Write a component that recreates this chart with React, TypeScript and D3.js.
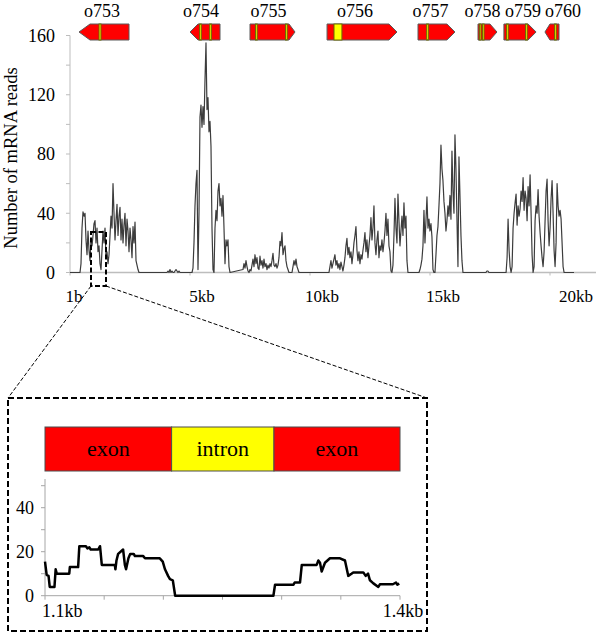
import React from 'react';
import * as d3 from 'd3';

// ---------- main chart data ----------
const yTicksMain = [0, 40, 80, 120, 160];
const yMinorMain = [20, 60, 100, 140];
const xTickKb = [0, 5, 10, 15, 20];
const xTickLabels = ['1b', '5kb', '10kb', '15kb', '20kb'];

const STEP_KB = 1 / 24;
const seg1 = [0, 6, 30, 41, 38, 40, 22, 12, 28, 15, 8, 22, 18, 25, 33, 35, 20, 30, 14, 18, 6, 2, 15, 28, 20, 30, 10, 14, 6, 12, 25, 38, 30, 60, 40, 22, 35, 46, 25, 38, 44, 22, 36, 20, 32, 40, 18, 36, 28, 14, 30, 22, 10, 31, 20, 34, 8, 5, 2, 0];
const seg2 = [0, 0, 1, 0, 2, 0, 1, 0, 0, 1, 2, 1, 0, 1, 0, 0];
const seg3 = [0, 3, 20, 45, 60, 69, 2, 40, 105, 113, 98, 112, 100, 130, 155, 110, 118, 95, 102, 85, 30, 2, 0, 30, 42, 35, 55, 60, 45, 50, 38, 52, 30, 6, 22, 18, 22, 4, 0];
const seg4 = [2, 6, 3, 8, 4, 1, 0, 2, 1, 5, 9, 4, 12, 6, 10, 3, 2, 11, 5, 8, 3, 9, 4, 6, 2, 5, 3, 6, 4, 8, 13, 5, 4, 6, 3, 5, 10, 21, 18, 27, 12, 16, 18, 8, 4, 2, 0, 0, 0, 0, 4, 8, 5, 9, 4, 2, 0, 0];
const seg5 = [0, 4, 8, 3, 6, 9, 12, 5, 8, 3, 6, 2, 7, 4, 1, 5, 10, 18, 23, 12, 17, 10, 14, 6, 12, 20, 25, 31, 15, 8, 14, 6, 12, 9, 15, 20, 27, 14, 22, 10, 18, 25, 37, 22, 30, 45, 20, 12, 22, 28, 10, 18, 15, 22, 14, 20, 28, 40, 25, 36, 18, 14, 1, 0, 5, 25, 50, 30, 20, 53, 35, 18, 28, 38, 25, 47, 30, 38, 8, 0];
const seg6 = [0, 2, 5, 9, 18, 42, 20, 35, 51, 30, 36, 28, 33, 24, 2, 0, 0, 12, 25, 31, 45, 60, 86, 70, 62, 48, 40, 28, 35, 45, 38, 52, 36, 82, 55, 40, 93, 70, 36, 4, 78, 52, 25, 8, 0];
const seg7 = [0, 1, 1, 0, 0];
const seg8 = [0, 10, 36, 15, 4, 0, 4, 30, 40, 47, 53, 32, 45, 38, 43, 55, 48, 64, 42, 55, 50, 35, 58, 45, 66, 40, 12, 0, 4, 35, 45, 40, 56, 38, 27, 18, 10, 4, 14, 35, 55, 63, 35, 18, 30, 50, 62, 40, 15, 4, 20, 60, 45, 38, 42, 36, 20, 4, 0];
const segStartKb = [0.417, 4.0, 5.083, 7.208, 10.79, 14.54, 17.33, 18.17];
const segValues = [seg1, seg2, seg3, seg4, seg5, seg6, seg7, seg8];
const coverageEndKb = 21.0;

// genes
const geneNames = ['o753', 'o754', 'o755', 'o756', 'o757', 'o758', 'o759', 'o760'];
const geneStartKb = [0.375, 5.0, 7.5, 10.71, 14.5, 17.0, 18.08, 19.79];
const geneEndKb = [2.458, 6.25, 9.375, 13.625, 16.04, 17.79, 19.42, 20.375];
const geneStrand = [-1, -1, 1, 1, 1, 1, 1, -1];
const geneIntrons: [number, number][][] = [
  [[1.21, 1.29]],
  [[5.40, 5.47], [5.82, 5.89]],
  [[7.73, 7.80], [8.98, 9.05]],
  [[11.0, 11.33]],
  [[14.86, 14.93]],
  [[17.06, 17.11], [17.19, 17.24]],
  [[18.19, 18.26], [18.98, 19.05]],
  [[20.19, 20.26]],
];
const geneHeadPx = [11, 8, 6, 8, 8, 7, 8, 5];
const geneLabelDx = [-2, -4, -4, -7, -6, -5, 3, 11];
const xLabelDx = [4, 12, 12, 13, 26];

// ---------- inset data ----------
const insetDomain = [1100, 1400];
const insetYTicks = [0, 20, 40];
const insetYMinor = [10, 30, 50];
const insetXTicks = [1100, 1150, 1200, 1250, 1300, 1350, 1400];
const insetXLabels = ['1.1kb', '1.4kb'];
const insetRegions = [
  { name: 'exon', start: 1100, end: 1207, color: '#ff0000' },
  { name: 'intron', start: 1207, end: 1293.5, color: '#ffff00' },
  { name: 'exon', start: 1293.5, end: 1400, color: '#ff0000' },
];
const insetCoverage: [number, number][] = [
  [1100, 15.5], [1101.4, 9.5], [1103, 9], [1104, 4], [1108, 4], [1109, 12], [1110, 10], [1120.5, 10],
  [1121, 13], [1128, 13], [1129, 22.5], [1134.6, 22.5], [1135.8, 21.5], [1137.5, 22], [1138.6, 21],
  [1145, 21], [1146.5, 22.5], [1148, 14], [1159, 14], [1159.5, 12], [1160.4, 16], [1161.8, 19],
  [1166, 21], [1167.5, 14], [1168.5, 12], [1170.5, 17], [1172, 19], [1175, 19], [1176, 18], [1183, 18],
  [1184.5, 17], [1197, 17], [1199.5, 15.5], [1201.4, 12], [1204, 9], [1205.6, 7.5], [1208, 7], [1210, 0],
  [1293, 0], [1294.4, 5], [1310, 5], [1311, 6], [1315.5, 6], [1317, 14], [1329.6, 14], [1331, 16],
  [1332.4, 15], [1333.8, 11], [1336.6, 15], [1340.8, 17], [1349.3, 17], [1353.5, 16], [1356.3, 9],
  [1359, 10], [1360.5, 10.6], [1369, 10.6], [1371, 9], [1373, 10], [1374.6, 7], [1377.5, 5.6],
  [1381.7, 4], [1383, 5.2], [1394, 5.2], [1396.6, 6], [1397.7, 5], [1399.4, 5.5],
];

const FONT = '"Liberation Serif", "DejaVu Serif", serif';
const T: React.CSSProperties = { fontFamily: FONT };

export default function App() {
  const x = d3.scaleLinear().domain([0, 20]).range([70, 550]);
  const y = d3.scaleLinear().domain([0, 160]).range([272.5, 35.5]);

  const pts: [number, number][] = [[0, 0]];
  segValues.forEach((vals, si) => {
    vals.forEach((v, i) => pts.push([segStartKb[si] + i * STEP_KB, v]));
  });
  pts.push([coverageEndKb, 0]);
  const line = d3.line<[number, number]>().x(d => x(d[0])).y(d => y(d[1]));

  const gTop = 24, gBot = 40, gMid = 32;
  const genes = geneNames.map((name, i) => {
    const x0 = x(geneStartKb[i]), x1 = x(geneEndKb[i]);
    const h = geneHeadPx[i];
    let poly: string;
    if (geneStrand[i] > 0) {
      poly = `${x0},${gTop} ${x1 - h},${gTop} ${x1},${gMid} ${x1 - h},${gBot} ${x0},${gBot}`;
    } else {
      poly = `${x0},${gMid} ${x0 + h},${gTop} ${x1},${gTop} ${x1},${gBot} ${x0 + h},${gBot}`;
    }
    return { name, x0, x1, poly, i };
  });

  const ix = d3.scaleLinear().domain(insetDomain).range([45, 400]);
  const iy = d3.scaleLinear().domain([0, 50]).range([595.7, 485.7]);
  const iline = d3.line<[number, number]>().x(d => ix(d[0])).y(d => iy(d[1]));

  const axisGray = '#bdbdbd';

  return (
    <svg width={600} height={634} style={{ position: 'absolute', left: 0, top: 0, background: '#fff' }}>
      <rect x={0} y={0} width={600} height={634} fill="#fff" />
      <line x1={70} x2={70} y1={y(0)} y2={y(160)} stroke={axisGray} strokeWidth={1} />
      {[...yTicksMain, ...yMinorMain].map(t => (
        <line key={'yt' + t} x1={66} x2={70} y1={y(t)} y2={y(t)} stroke={axisGray} strokeWidth={1} />
      ))}
      {yTicksMain.map(t => (
        <text key={'yl' + t} style={T} x={55} y={y(t)} dy="0.35em" textAnchor="end" fontSize={18} fill="#000">{t}</text>
      ))}
      <text style={T} transform={`translate(17,158) rotate(-90)`} textAnchor="middle" fontSize={18.5} fill="#000">Number of mRNA reads</text>
      <line x1={70} x2={596} y1={y(0)} y2={y(0)} stroke={axisGray} strokeWidth={1.5} />
      {xTickKb.map((t, i) => (
        <g key={'xt' + t}>
          <line x1={x(t)} x2={x(t)} y1={y(0)} y2={y(0) + 3} stroke={axisGray} />
          <text style={T} x={x(t) + xLabelDx[i]} y={302} textAnchor="middle" fontSize={17} fill="#000">{xTickLabels[i]}</text>
        </g>
      ))}
      <path d={line(pts) || ''} fill="none" stroke="#3c3c3c" strokeWidth={1.2} strokeLinejoin="round" />
      {genes.map(g => (
        <g key={g.name}>
          <text style={T} x={(g.x0 + g.x1) / 2 + geneLabelDx[g.i]} y={17} textAnchor="middle" fontSize={18} fill="#000">{g.name}</text>
          <polygon points={g.poly} fill="#ff0000" stroke="#5a5a5a" strokeWidth={1} />
          {geneIntrons[g.i].map((r, k) => (
            <rect key={k} x={x(r[0])} y={gTop} width={Math.max(1.5, x(r[1]) - x(r[0]))} height={gBot - gTop} fill="#ffff00" stroke="#6b6b00" strokeWidth={1} />
          ))}
        </g>
      ))}
      <rect x={91} y={232} width={15} height={54} fill="none" stroke="#000" strokeWidth={2} strokeDasharray="5,2.5" />
      <line x1={91} y1={286} x2={8} y2={398} stroke="#000" strokeWidth={1} strokeDasharray="4,2" />
      <line x1={106} y1={286} x2={427} y2={398} stroke="#000" strokeWidth={1} strokeDasharray="4,2" />
      <rect x={8} y={398} width={419} height={233} fill="none" stroke="#000" strokeWidth={2} strokeDasharray="6,3" />
      {insetRegions.map((r, i) => (
        <g key={'reg' + i}>
          <rect x={ix(r.start)} y={427} width={ix(r.end) - ix(r.start)} height={44} fill={r.color} stroke="#4d4d4d" strokeWidth={1} />
          <text style={T} x={(ix(r.start) + ix(r.end)) / 2} y={456} textAnchor="middle" fontSize={22} fill="#000">{r.name}</text>
        </g>
      ))}
      <line x1={45} x2={45} y1={iy(0)} y2={479} stroke="#a6a6a6" strokeWidth={1} />
      {[...insetYTicks, ...insetYMinor].map(t => (
        <line key={'iyt' + t} x1={41} x2={45} y1={iy(t)} y2={iy(t)} stroke="#a6a6a6" />
      ))}
      {insetYTicks.map(t => (
        <text key={'iyl' + t} style={T} x={34} y={iy(t)} dy="0.35em" textAnchor="end" fontSize={18} fill="#000">{t}</text>
      ))}
      <line x1={45} x2={400} y1={iy(0)} y2={iy(0)} stroke="#a6a6a6" strokeWidth={1} />
      {insetXTicks.map(t => (
        <line key={'ixt' + t} x1={ix(t)} x2={ix(t)} y1={iy(0)} y2={iy(0) + 4} stroke="#a6a6a6" />
      ))}
      <text style={T} x={ix(1100) - 3} y={617} textAnchor="start" fontSize={18} fill="#000">{insetXLabels[0]}</text>
      <text style={T} x={ix(1400) + 3} y={617} textAnchor="middle" fontSize={18} fill="#000">{insetXLabels[1]}</text>
      <path d={iline(insetCoverage) || ''} fill="none" stroke="#000" strokeWidth={2.5} strokeLinejoin="round" />
    </svg>
  );
}
